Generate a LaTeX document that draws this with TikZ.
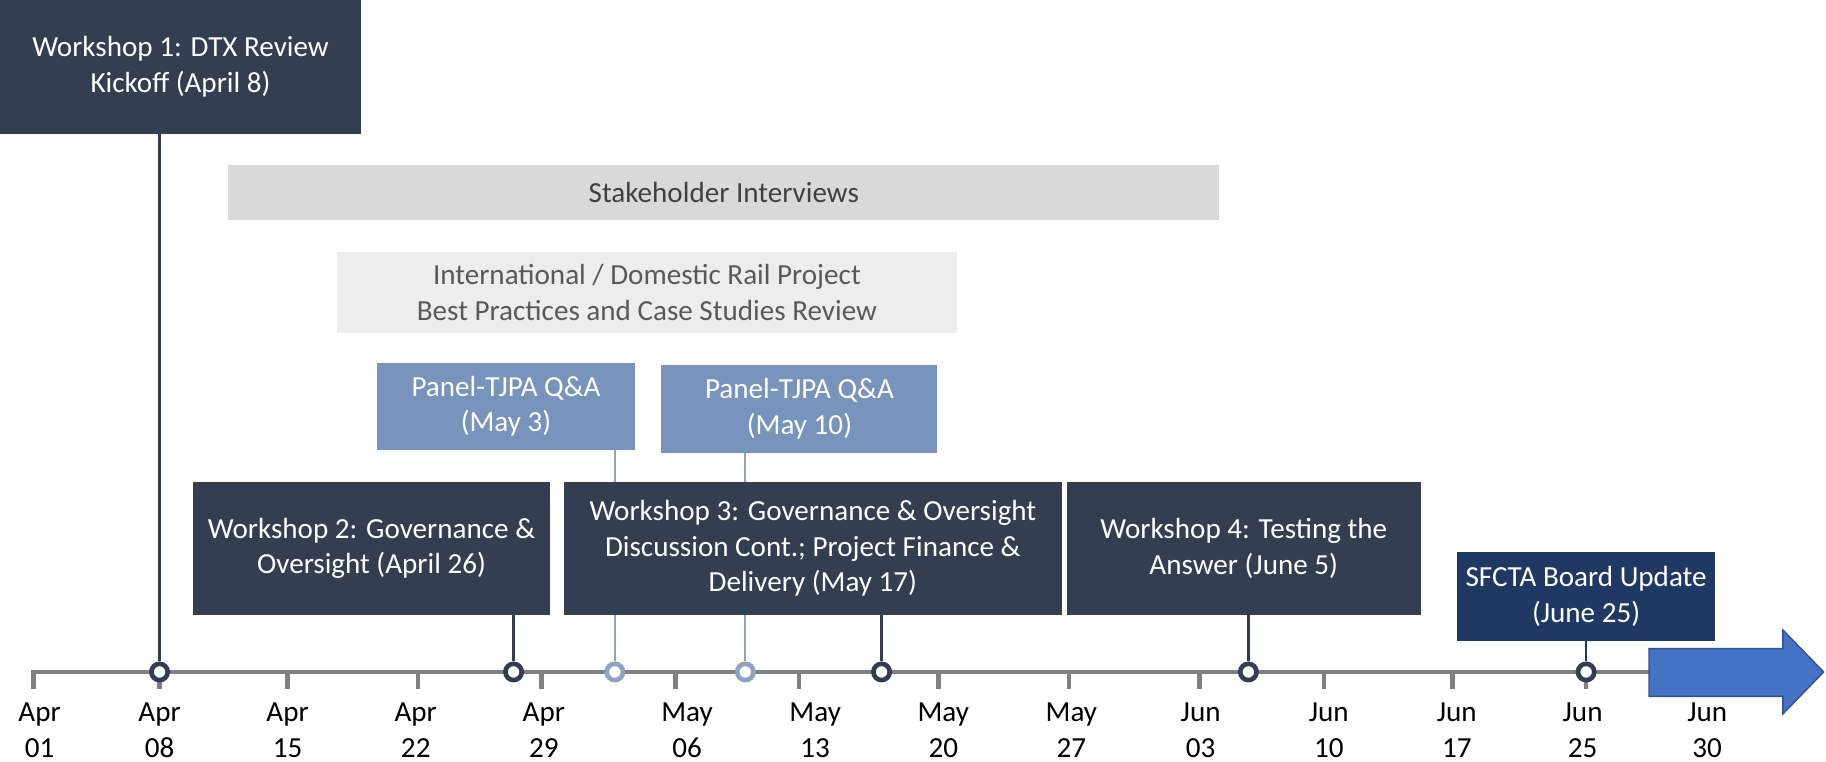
\documentclass[tikz,border=0pt]{standalone}
\usepackage{fontspec}
\setmainfont{Carlito}
\definecolor{slate}{HTML}{333F50}
\definecolor{steel}{HTML}{7894BC}
\definecolor{steelline}{HTML}{8EA3C2}
\definecolor{navy}{HTML}{203864}
\definecolor{barA}{HTML}{D9D9D9}
\definecolor{barB}{HTML}{EDEDED}
\definecolor{axisgray}{HTML}{808080}
\definecolor{arrowblue}{HTML}{4472C4}
\definecolor{arrowedge}{HTML}{2F528F}
\begin{document}
\begin{tikzpicture}[x=1pt,y=-1pt,event/.style={shape=rectangle,fill=slate,text=white,align=center,inner sep=0pt,font=\fontsize{25}{30.5}\selectfont},panel/.style={event,fill=steel},board/.style={event,fill=navy},bar/.style={event,fill=barA,text=black!75},barL/.style={event,fill=barB,text=black!65},dot/.style={shape=circle,draw=slate,fill=white,line width=4pt,minimum size=14pt,inner sep=0pt},dotL/.style={dot,draw=steelline},stem/.style={draw=slate,line width=2pt},stemL/.style={stem,draw=steelline},axtick/.style={draw=axisgray,line width=4pt},date/.style={align=center,font=\fontsize{25}{31}\selectfont}]
\def\ay{577};
\def\ty{592};
\def\ly{627};

\useasboundingbox (0,0) rectangle (1568,654);

\draw[axtick] (29,\ty) -- (29,\ay) -- (1420,\ay);
\draw[axtick] (137,\ay) -- (137,\ty) (247,\ay) -- (247,\ty) (359,\ay) -- (359,\ty) (465,\ay) -- (465,\ty) (580,\ay) -- (580,\ty) (686,\ay) -- (686,\ty) (806,\ay) -- (806,\ty) (918,\ay) -- (918,\ty) (1030,\ay) -- (1030,\ty) (1137,\ay) -- (1137,\ty) (1247,\ay) -- (1247,\ty) (1362,\ay) -- (1362,\ty);

\node[date] (l1) at (34,\ly) {Apr\\01};
\node[date] (l2) at (137,\ly) {Apr\\08};
\node[date] (l3) at (247,\ly) {Apr\\15};
\node[date] (l4) at (357,\ly) {Apr\\22};
\node[date] (l5) at (467,\ly) {Apr\\29};
\node[date] (l6) at (590,\ly) {May\\06};
\node[date] (l7) at (700,\ly) {May\\13};
\node[date] (l8) at (810,\ly) {May\\20};
\node[date] (l9) at (920,\ly) {May\\27};
\node[date] (l10) at (1031,\ly) {Jun\\03};
\node[date] (l11) at (1141,\ly) {Jun\\10};
\node[date] (l12) at (1251,\ly) {Jun\\17};
\node[date] (l13) at (1359,\ly) {Jun\\25};
\node[date] (l14) at (1466,\ly) {Jun\\30};

% panels sit behind workshop 3
\node[panel,minimum width=221,minimum height=74] (P1) at (434.5,349) {Panel-TJPA Q\&A\\(May 3)};
\node[panel,minimum width=237,minimum height=76] (P2) at (686.5,351) {Panel-TJPA Q\&A\\(May 10)};
\node[dotL] (dP1) at (528,\ay) {};
\node[dotL] (dP2) at (640,\ay) {};
\draw[stemL] (P1.south -| dP1) -- (dP1.north);
\draw[stemL] (P2.south -| dP2) -- (dP2.north);

\node[event,minimum width=310,minimum height=115] (W1) at (155,57.5) {Workshop 1: DTX Review\\Kickoff (April 8)};
\node[bar,minimum width=851,minimum height=47] (S) at (621.5,165.5) {Stakeholder Interviews};
\node[barL,minimum width=533,minimum height=70] (I) at (555.5,251) {International / Domestic Rail Project\\Best Practices and Case Studies Review};
\node[event,minimum width=306,minimum height=114] (W2) at (319,471) {Workshop 2: Governance \&\\Oversight (April 26)};
\node[event,minimum width=428,minimum height=114] (W3) at (698,471) {Workshop 3: Governance \& Oversight\\Discussion Cont.; Project Finance \&\\Delivery (May 17)};
\node[event,minimum width=304,minimum height=114] (W4) at (1068,471) {Workshop 4: Testing the\\Answer (June 5)};
\node[board,minimum width=222,minimum height=76] (B) at (1362,512) {SFCTA Board Update\\(June 25)};

\node[dot] (dW1) at (137,\ay) {};
\node[dot] (dW2) at (441,\ay) {};
\node[dot] (dW3) at (757,\ay) {};
\node[dot] (dW4) at (1072,\ay) {};
\node[dot] (dB) at (1362,\ay) {};
\draw[stem] (W1.south -| dW1) -- (dW1.north);
\draw[stem] (W2.south -| dW2) -- (dW2.north);
\draw[stem] (W3.south -| dW3) -- (dW3.north);
\draw[stem] (W4.south -| dW4) -- (dW4.north);
\draw[stem,draw=navy] (B.south -| dB) -- (dB.north);

\draw[fill=arrowblue,draw=arrowedge,line width=1.2pt] (1416,557) -- (1531,557) -- (1531,541) -- (1566,577) -- (1531,613) -- (1531,598) -- (1416,598) -- cycle;
\end{tikzpicture}
\end{document}
